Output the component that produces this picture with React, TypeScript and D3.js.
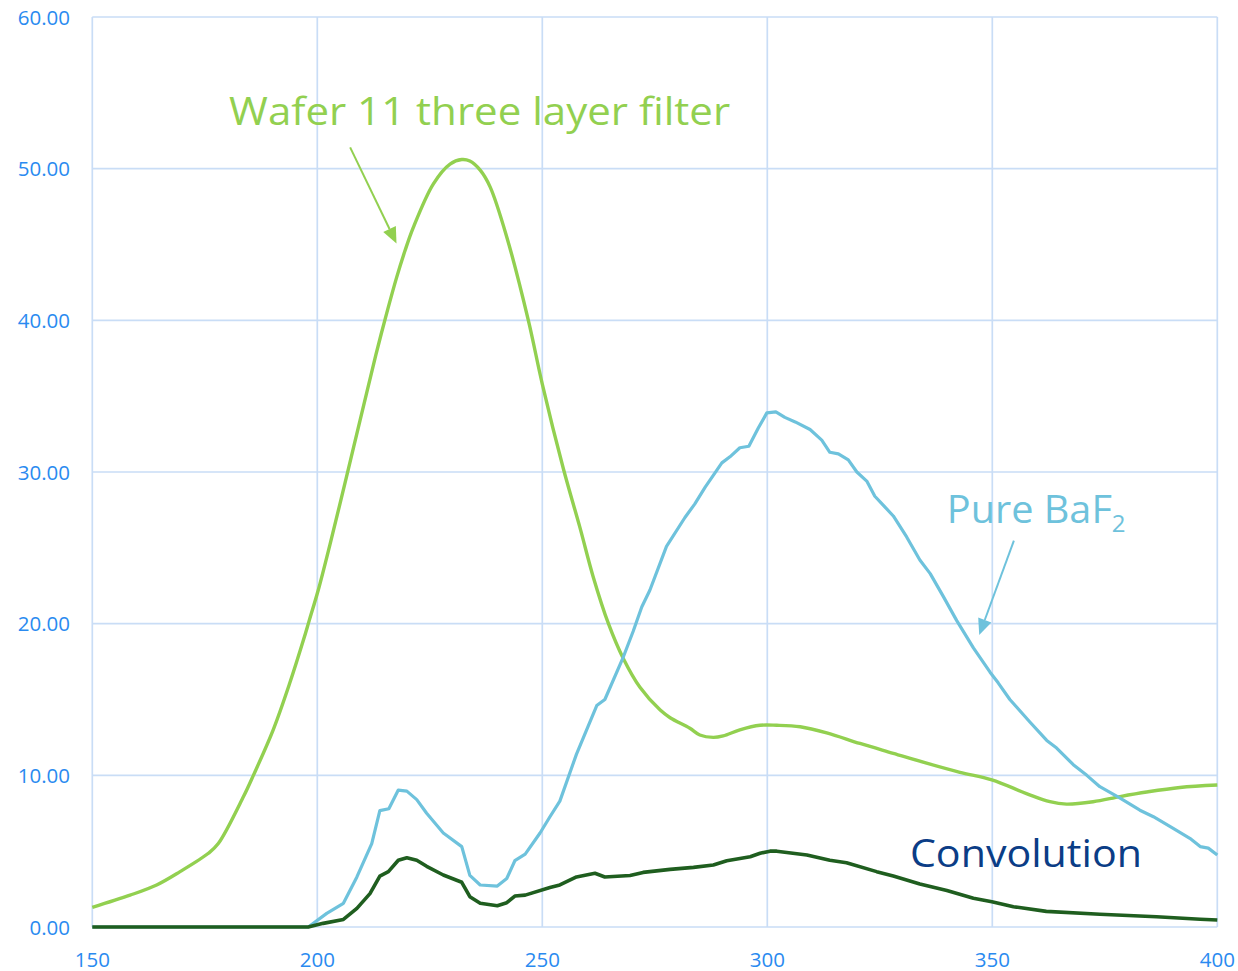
import React from "react";
import * as d3 from "d3";

// Axis ticks
const xTicks = [150, 200, 250, 300, 350, 400];
const yTicks = [0, 10, 20, 30, 40, 50, 60];

// Wafer 11 three layer filter transmission
const filterNm = [150, 158.4, 164.3, 169.5, 175.8, 178, 183.6, 185.8, 190.2, 193.9, 196.9, 198.2, 200.2, 202.8, 206.5, 209.5, 213, 215, 217.6, 219.5, 221.3, 225.8, 229.5, 232.1, 233.9, 236.2, 238.4, 242.1, 246.9, 250, 254.7, 258.4, 261.3, 264.7, 268, 271.7, 276.2, 278.4, 282.8, 285, 288, 290.2, 293.9, 298.4, 302.1, 307.3, 313.2, 320.6, 328, 335.4, 342.8, 349.9, 357.6, 362.8, 366.5, 372.4, 378.4, 384.3, 391.7, 400];
const filterVal = [1.3, 2.1, 2.77, 3.65, 4.86, 5.5, 8.6, 10.0, 13.0, 16.1, 18.9, 20.2, 22.2, 25.2, 29.7, 33.4, 37.7, 40.0, 42.8, 44.6, 46.1, 49.0, 50.3, 50.6, 50.5, 49.9, 48.8, 45.5, 40.0, 35.8, 30.2, 26.3, 23.1, 20.0, 17.7, 15.8, 14.3, 13.8, 13.1, 12.66, 12.5, 12.6, 13.0, 13.3, 13.3, 13.2, 12.8, 12.1, 11.45, 10.8, 10.2, 9.7, 8.8, 8.26, 8.1, 8.26, 8.6, 8.9, 9.2, 9.36];

// Pure BaF2 emission
const bafNm = [150, 198, 202.1, 205.8, 208.8, 212.1, 213.9, 215.9, 218, 219.9, 222.1, 224.3, 228, 232.1, 233.9, 236.2, 240, 242.1, 243.9, 246.2, 249.5, 251.7, 253.9, 257.6, 262.1, 263.9, 268, 270.2, 272.1, 273.9, 277.6, 281.7, 283.9, 286.2, 289.9, 291.7, 293.9, 295.9, 298, 299.9, 301.9, 303.9, 306.2, 309.5, 312.1, 313.9, 315.8, 318, 319.9, 322.1, 323.9, 325.8, 328, 331, 333.9, 336.2, 339.1, 342.1, 345.8, 349.5, 351.3, 353.9, 358.4, 362.1, 364.3, 368, 371, 373.9, 378.4, 382.8, 385.8, 390.2, 393.9, 396.2, 398, 400];
const bafVal = [0, 0, 0.9, 1.56, 3.3, 5.5, 7.67, 7.8, 9.03, 8.96, 8.4, 7.5, 6.2, 5.3, 3.4, 2.77, 2.7, 3.2, 4.37, 4.8, 6.2, 7.27, 8.3, 11.4, 14.6, 15.0, 17.8, 19.5, 21.1, 22.2, 25.1, 27.0, 27.9, 29.0, 30.6, 31.0, 31.6, 31.7, 32.9, 33.9, 33.97, 33.6, 33.3, 32.8, 32.1, 31.3, 31.2, 30.8, 30.0, 29.4, 28.4, 27.8, 27.1, 25.7, 24.2, 23.3, 21.8, 20.2, 18.4, 16.8, 16.1, 15.0, 13.5, 12.3, 11.8, 10.7, 10.0, 9.25, 8.5, 7.7, 7.27, 6.5, 5.85, 5.3, 5.2, 4.75];

// Convolution of filter and emission
const convNm = [150, 198, 201.3, 205.8, 208.8, 211.7, 213.9, 215.8, 218, 219.9, 222.1, 224.3, 228, 232.1, 233.9, 236.2, 240, 242.1, 243.9, 246.2, 251.7, 253.9, 257.6, 261.7, 263.9, 269.5, 272.4, 278.4, 283.6, 288, 291, 296.2, 298.4, 300.6, 302.1, 308.8, 313.9, 317.6, 324.3, 328, 333.9, 339.9, 345.8, 349.9, 354.7, 362, 373.9, 386.5, 396.2, 400];
const convVal = [0, 0, 0.24, 0.5, 1.23, 2.2, 3.36, 3.65, 4.4, 4.57, 4.4, 4.0, 3.43, 2.95, 2.0, 1.56, 1.4, 1.6, 2.04, 2.1, 2.6, 2.77, 3.3, 3.54, 3.3, 3.4, 3.6, 3.8, 3.93, 4.09, 4.37, 4.63, 4.86, 5.0, 5.0, 4.75, 4.4, 4.24, 3.65, 3.36, 2.83, 2.4, 1.89, 1.67, 1.34, 1.03, 0.84, 0.68, 0.51, 0.46];

const GRID = "#c9ddf6";
const TICK = "#2a8af0";
const C_FILTER = "#92d050";
const C_BAF = "#6ec2dc";
const C_CONV = "#1f5e1f";
const C_CONV_TEXT = "#0b3d86";

type Pt = [number, number];
const zip = (a: number[], b: number[]): Pt[] => a.map((v, i) => [v, b[i]]);

export default function App() {
  const W = 1238;
  const H = 971;
  const x = d3.scaleLinear().domain([150, 400]).range([92.3, 1217.3]);
  const y = d3.scaleLinear().domain([0, 60]).range([927, 17]);

  const smooth = d3
    .line<Pt>()
    .x((d) => x(d[0]))
    .y((d) => y(d[1]))
    .curve(d3.curveCatmullRom.alpha(0.5));
  const straight = d3
    .line<Pt>()
    .x((d) => x(d[0]))
    .y((d) => y(d[1]));

  const arrow = (x1: number, y1: number, x2: number, y2: number, color: string) => {
    const px1 = x(x1), py1 = y(y1), px2 = x(x2), py2 = y(y2);
    const ang = Math.atan2(py2 - py1, px2 - px1);
    const len = 16, half = 7;
    const bx = px2 - len * Math.cos(ang), by = py2 - len * Math.sin(ang);
    const nx = -Math.sin(ang), ny = Math.cos(ang);
    const head = `M${px2},${py2}L${bx + nx * half},${by + ny * half}L${bx - nx * half},${by - ny * half}Z`;
    return (
      <g>
        <line x1={px1} y1={py1} x2={bx} y2={by} stroke={color} strokeWidth={2} />
        <path d={head} fill={color} />
      </g>
    );
  };

  const font = "'Open Sans', 'Noto Sans', sans-serif";

  return (
    <svg
      width={W}
      height={H}
      style={{ position: "absolute", left: 0, top: 0, display: "block", background: "#fff" }}
      fontFamily={font}
    >
      {/* grid */}
      {yTicks.map((t) => (
        <line key={"gy" + t} x1={x(150)} x2={x(400)} y1={y(t)} y2={y(t)} stroke={GRID} strokeWidth={1.7} />
      ))}
      {xTicks.map((t) => (
        <line key={"gx" + t} x1={x(t)} x2={x(t)} y1={y(0)} y2={y(60)} stroke={GRID} strokeWidth={1.7} />
      ))}

      {/* tick labels */}
      {yTicks.map((t) => (
        <text key={"ly" + t} x={70} y={y(t) + 7.5} textAnchor="end" fontSize={20.5} fill={TICK}>
          {t.toFixed(2)}
        </text>
      ))}
      {xTicks.map((t) => (
        <text key={"lx" + t} x={x(t)} y={966.5} textAnchor="middle" fontSize={20.5} fill={TICK}>
          {t}
        </text>
      ))}

      {/* series */}
      <path d={smooth(zip(filterNm, filterVal)) || ""} fill="none" stroke={C_FILTER} strokeWidth={3.4} strokeLinejoin="round" />
      <path d={straight(zip(bafNm, bafVal)) || ""} fill="none" stroke={C_BAF} strokeWidth={3.2} strokeLinejoin="round" />
      <path d={straight(zip(convNm, convVal)) || ""} fill="none" stroke={C_CONV} strokeWidth={3.6} strokeLinejoin="round" />

      {/* annotations */}
      <text x={x(180.4)} y={y(52.9)} fontSize={39} fill={C_FILTER} textLength={501} lengthAdjust="spacingAndGlyphs">
        Wafer 11 three layer filter
      </text>
      {arrow(207.3, 51.4, 217.6, 45.07, C_FILTER)}

      <text x={x(339.9)} y={y(26.65)} fontSize={39} fill={C_BAF}>
        <tspan textLength={165} lengthAdjust="spacingAndGlyphs">Pure BaF</tspan>
        <tspan dy={9} fontSize={24}>2</tspan>
      </text>
      {arrow(354.8, 25.47, 347.1, 19.25, C_BAF)}

      <text x={x(331.7)} y={y(3.97)} fontSize={39} fill={C_CONV_TEXT} textLength={232} lengthAdjust="spacingAndGlyphs">
        Convolution
      </text>
    </svg>
  );
}
